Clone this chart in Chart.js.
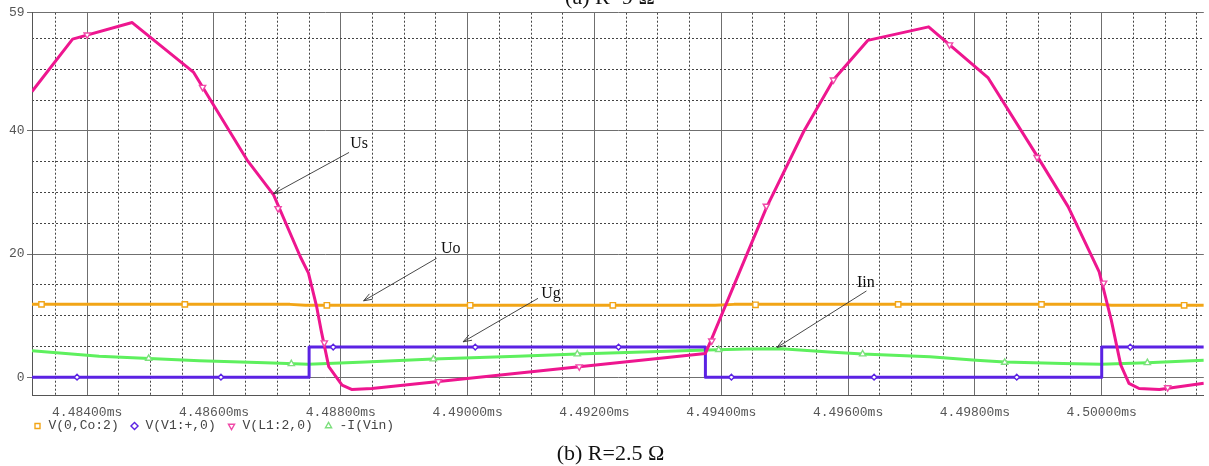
<!DOCTYPE html>
<html><head><meta charset="utf-8">
<script src="https://cdn.jsdelivr.net/npm/chart.js@4/dist/chart.umd.min.js"></script>
<style>html,body{margin:0;padding:0;background:#fff}#wrap{position:relative;width:1209px;height:466px}</style>
</head><body><div id="wrap"><canvas id="c"></canvas></div>
<script>
// ---- axes / ticks ----
const xMin = 4.48313, xMax = 4.50161;
const yMin = -2.95, yMax = 59.2;
const xMajorTicks = [4.484, 4.486, 4.488, 4.490, 4.492, 4.494, 4.496, 4.498, 4.500];
const xMinorTicks = [4.4835, 4.4845, 4.4850, 4.4855, 4.4865, 4.4870, 4.4875, 4.4885, 4.4890, 4.4895,
  4.4905, 4.4910, 4.4915, 4.4925, 4.4930, 4.4935, 4.4945, 4.4950, 4.4955, 4.4965, 4.4970, 4.4975,
  4.4985, 4.4990, 4.4995, 4.5005, 4.5010, 4.5015];
const yMajorTicks = [0, 20, 40, 59.2];
const yMinorTicks = [5, 10, 15, 25, 30, 35, 45, 50, 55];
const seriesNames = ['V(0,Co:2)', 'V(V1:+,0)', 'V(L1:2,0)', '-I(Vin)'];

// ---- Uo : V(0,Co:2) ----
const uoT = [4.48313, 4.48720, 4.48744, 4.49390, 4.49420, 4.50000, 4.50015, 4.50161];
const uoV = [11.82, 11.82, 11.66, 11.66, 11.82, 11.82, 11.66, 11.66];
const uoMarkT = [4.48328, 4.48554, 4.48778, 4.49004, 4.49229, 4.49454, 4.49679, 4.49905, 4.50130];
const uoMarkV = [11.82, 11.82, 11.66, 11.66, 11.66, 11.75, 11.82, 11.82, 11.66];

// ---- Ug : V(V1:+,0) (stepped) ----
const ugT = [4.48313, 4.48750, 4.49375, 4.50000, 4.50161];
const ugV = [0, 4.88, 0, 4.88, 4.88];
const ugMarkT = [4.48384, 4.48611, 4.48788, 4.49012, 4.49238, 4.49416, 4.49641, 4.49866, 4.50045];
const ugMarkV = [0, 0, 4.88, 4.88, 4.88, 0, 0, 0, 4.88];

// ---- Us : V(L1:2,0) ----
const usT = [4.48313, 4.48377, 4.48471, 4.48568, 4.48652, 4.48694, 4.48736, 4.48749, 4.48762, 4.48769,
  4.48781, 4.48802, 4.48817, 4.48849, 4.49375, 4.49384, 4.49441, 4.49472, 4.49530, 4.49577, 4.49631,
  4.49727, 4.49821, 4.49897, 4.49947, 4.49996, 4.50015, 4.50030, 4.50043, 4.50059, 4.50091, 4.50161];
const usV = [46.4, 54.9, 57.6, 49.5, 35.3, 29.6, 19.6, 16.9, 11.4, 7.6,
  1.7, -1.3, -2.0, -1.85, 3.85, 6.0, 20.1, 27.7, 39.9, 48.3, 54.7,
  56.9, 48.6, 36.1, 27.7, 17.1, 9.3, 2.0, -1.0, -1.85, -2.0, -1.0];
const usMarkT = [4.48400, 4.48582, 4.48701, 4.48774, 4.48954, 4.49176, 4.49385, 4.49471, 4.49577, 4.49760, 4.49898, 4.50003, 4.50104];
const usMarkV = [55.6, 47.1, 27.4, 5.6, -0.7, 1.7, 5.9, 27.8, 48.3, 54.0, 35.7, 15.3, -1.7];

// ---- Iin : -I(Vin) ----
const iinT = [4.48313, 4.48419, 4.48577, 4.48681, 4.48749, 4.48839, 4.48946, 4.49079, 4.49173, 4.49289,
  4.49378, 4.49440, 4.49495, 4.49570, 4.49623, 4.49729, 4.49802, 4.49847, 4.49939, 4.49999, 4.50072, 4.50161];
const iinV = [4.28, 3.41, 2.65, 2.33, 2.11, 2.44, 2.93, 3.41, 3.74, 4.11,
  4.39, 4.58, 4.62, 4.1, 3.74, 3.3, 2.76, 2.45, 2.23, 2.11, 2.33, 2.76];
const iinMarkT = [4.48497, 4.48722, 4.48946, 4.49173, 4.49396, 4.49623, 4.49847, 4.50072];
const iinMarkV = [3.04, 2.16, 2.93, 3.74, 4.45, 3.74, 2.39, 2.33];

// ---- annotations (data coordinates) ----
const annotations = [
  {text: 'Us',  tx: 4.48815, ty: 37.2, x1: 4.48813, y1: 36.5, x2: 4.48694, y2: 29.8},
  {text: 'Uo',  tx: 4.48958, ty: 20.1, x1: 4.48951, y1: 19.3, x2: 4.48836, y2: 12.4},
  {text: 'Ug',  tx: 4.49116, ty: 12.8, x1: 4.49111, y1: 12.8, x2: 4.48993, y2: 5.74},
  {text: 'Iin', tx: 4.49614, ty: 14.7, x1: 4.49629, y1: 14.0, x2: 4.49488, y2: 4.83}
];
const captionBottom = '(b) R=2.5 Ω';
const captionTop = '(a) R=9 Ω';

const C = {uo: '#f2a516', ug: '#5b22e3', us: '#ee168f', iin: '#5ef05e'};
const mk = (T, V) => T.map((t, i) => ({x: t, y: V[i]}));
const mono = '"Liberation Mono", "DejaVu Sans Mono", monospace';

function markerSet(name, T, V, color, style, radius, rot) {
  return {label: name, data: mk(T, V), showLine: false, pointStyle: style, pointRadius: radius,
    pointRotation: rot || 0, pointBorderWidth: 1.4, pointBorderColor: color, pointBackgroundColor: '#fff',
    borderColor: color, backgroundColor: '#fff', pointHoverRadius: radius};
}
function lineSet(T, V, color, stepped) {
  return {label: '', data: mk(T, V), borderColor: color, borderWidth: 3, pointRadius: 0,
    tension: 0, stepped: stepped || false, fill: false, borderJoinStyle: 'round'};
}

const annotPlugin = {
  id: 'annot',
  afterLayout(chart) {
    // place the legend row just under the time-axis labels, left aligned like the source
    const lg = chart.legend;
    if (lg) {
      const h = lg.height, w = lg.width;
      lg.left = 21.7; lg.right = lg.left + w;
      lg.top = 408.2; lg.bottom = lg.top + h;
    }
  },
  afterDatasetsDraw(chart) {
    const {ctx, scales: {x, y}} = chart;
    ctx.save();
    ctx.strokeStyle = '#333'; ctx.lineWidth = 0.9;
    ctx.fillStyle = '#111';
    ctx.font = '16px "Liberation Serif", "Times New Roman", serif';
    ctx.textAlign = 'left'; ctx.textBaseline = 'alphabetic';
    annotations.forEach(a => {
      const x1 = x.getPixelForValue(a.x1), y1 = y.getPixelForValue(a.y1);
      const x2 = x.getPixelForValue(a.x2), y2 = y.getPixelForValue(a.y2);
      ctx.beginPath(); ctx.moveTo(x1, y1); ctx.lineTo(x2, y2); ctx.stroke();
      const ang = Math.atan2(y2 - y1, x2 - x1), L = 9, w = 0.35;
      ctx.beginPath();
      ctx.moveTo(x2 - L * Math.cos(ang - w), y2 - L * Math.sin(ang - w));
      ctx.lineTo(x2, y2);
      ctx.lineTo(x2 - L * Math.cos(ang + w), y2 - L * Math.sin(ang + w));
      ctx.stroke();
      ctx.fillText(a.text, x.getPixelForValue(a.tx), y.getPixelForValue(a.ty));
    });
    ctx.font = '22px "Liberation Serif", "Times New Roman", serif';
    ctx.textAlign = 'center';
    ctx.fillText(captionBottom, 610.5, 459.5);
    ctx.fillText(captionTop, 610, 3.5);
    ctx.restore();
  }
};

const setTicks = arr => (s => { s.ticks = arr.map(v => ({value: v})); });

new Chart(document.getElementById('c'), {
  type: 'line',
  data: {
    datasets: [
      markerSet(seriesNames[0], uoMarkT, uoMarkV, C.uo, 'rect', 3.8),
      markerSet(seriesNames[1], ugMarkT, ugMarkV, C.ug, 'rectRot', 2.8),
      markerSet(seriesNames[2], usMarkT, usMarkV, '#f04aa8', 'triangle', 3.6, 180),
      markerSet(seriesNames[3], iinMarkT, iinMarkV, '#7ddf7d', 'triangle', 3.6),
      lineSet(usT, usV, C.us),
      lineSet(ugT, ugV, C.ug, 'before'),
      lineSet(iinT, iinV, C.iin),
      lineSet(uoT, uoV, C.uo)
    ]
  },
  options: {
    responsive: true, maintainAspectRatio: false, animation: false,
    layout: {padding: {left: 0, top: 12.7, right: 1, bottom: 13.4}},
    plugins: {
      tooltip: {enabled: false},
      title: {display: false},
      legend: {
        display: true, position: 'bottom', align: 'start',
        labels: {
          usePointStyle: true, boxWidth: 9, boxHeight: 5, padding: 11.3,
          color: '#444', font: {family: mono, size: 13},
          filter: item => seriesNames.includes(item.text)
        }
      }
    },
    scales: {
      x: {
        type: 'linear', position: 'bottom', min: xMin, max: xMax,
        afterBuildTicks: setTicks(xMajorTicks),
        afterFit: s => { s.height = 23; },
        grid: {color: '#6f6f6f', lineWidth: 1, drawTicks: false},
        border: {display: true, color: '#555', width: 1},
        ticks: {autoSkip: false, maxRotation: 0, minRotation: 0, padding: 9, color: '#555',
          font: {family: mono, size: 13}, callback: v => Number(v).toFixed(5) + 'ms'}
      },
      xMinor: {
        type: 'linear', position: 'bottom', min: xMin, max: xMax,
        afterBuildTicks: setTicks(xMinorTicks),
        afterFit: s => { s.height = 0; },
        grid: {color: '#444', lineWidth: 1, drawTicks: false},
        border: {display: false, dash: [2, 2]},
        ticks: {display: false}
      },
      y: {
        type: 'linear', position: 'left', min: yMin, max: yMax,
        afterBuildTicks: setTicks(yMajorTicks),
        afterFit: s => { s.width = 32; },
        grid: {color: '#6f6f6f', lineWidth: 1, drawTicks: true, tickLength: 5},
        border: {display: true, color: '#555', width: 1},
        ticks: {padding: 2.5, color: '#555', font: {family: mono, size: 13},
          callback: v => String(Math.round(v))}
      },
      yMinor: {
        type: 'linear', position: 'left', min: yMin, max: yMax,
        afterBuildTicks: setTicks(yMinorTicks),
        afterFit: s => { s.width = 0; },
        grid: {color: '#444', lineWidth: 1, drawTicks: false},
        border: {display: false, dash: [2, 2]},
        ticks: {display: false}
      }
    }
  },
  plugins: [annotPlugin]
});
</script>
</body></html>
